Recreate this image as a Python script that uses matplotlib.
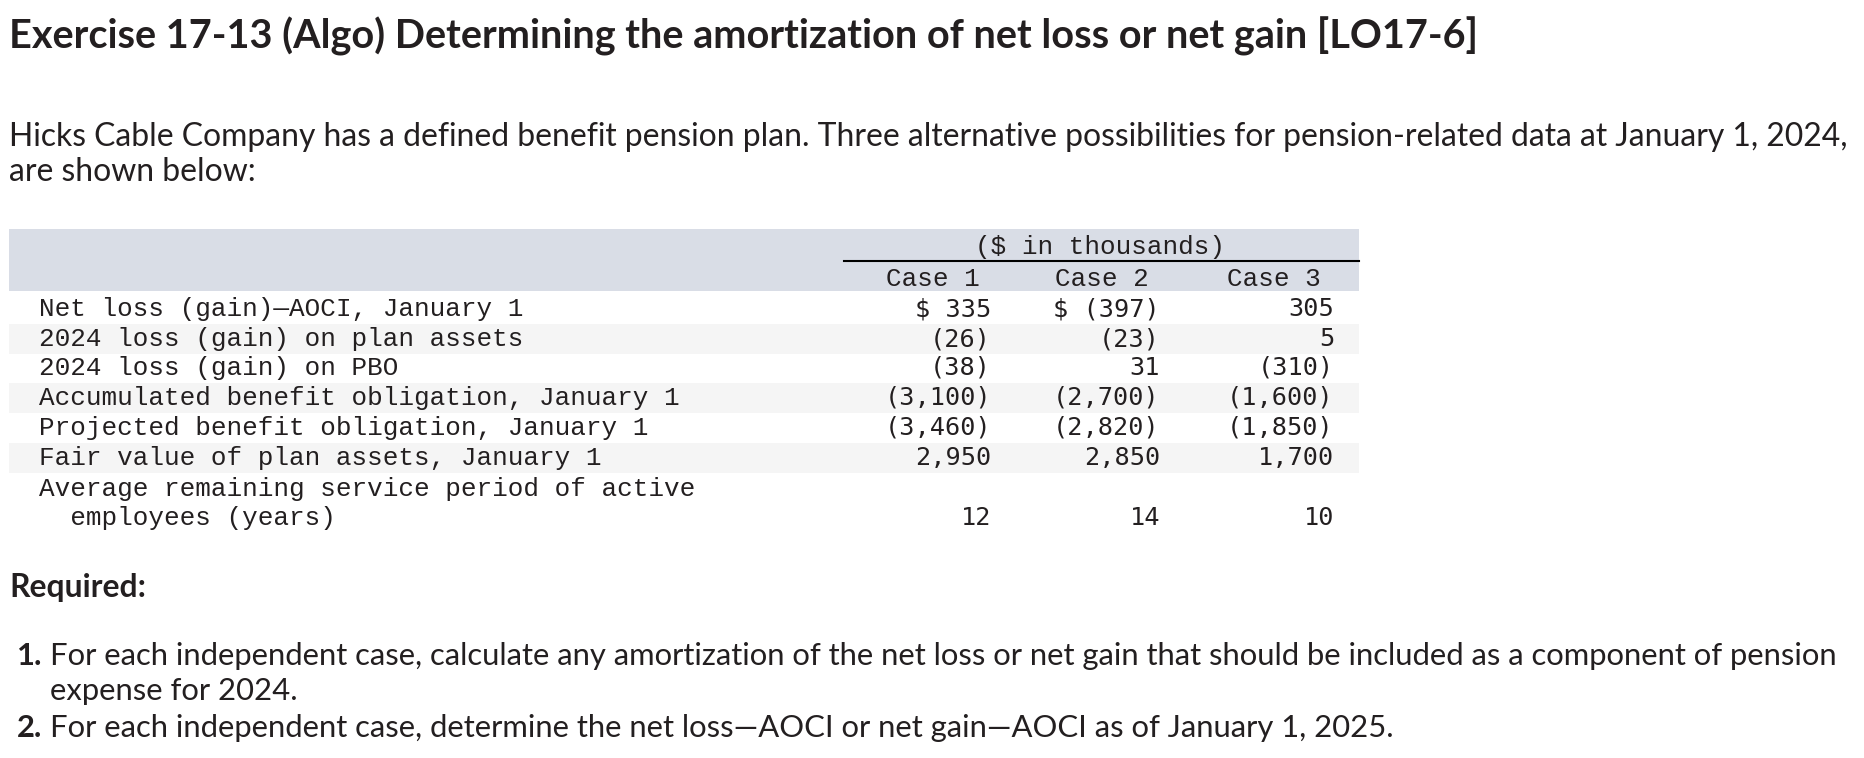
import numpy as np
from matplotlib import pyplot as plt

W, H = 1864, 758

title = "Exercise 17-13 (Algo) Determining the amortization of net loss or net gain [LO17-6]"
intro = ["Hicks Cable Company has a defined benefit pension plan. Three alternative possibilities for pension-related data at January 1, 2024,",
         "are shown below:"]

unit_label = "($ in thousands)"
cases = ["Case 1", "Case 2", "Case 3"]
row_labels = ["Net loss (gain)\u2014AOCI, January 1",
              "2024 loss (gain) on plan assets",
              "2024 loss (gain) on PBO",
              "Accumulated benefit obligation, January 1",
              "Projected benefit obligation, January 1",
              "Fair value of plan assets, January 1",
              "Average remaining service period of active",
              "  employees (years)"]
case1 = ["$ 335", "(26)", "(38)", "(3,100)", "(3,460)", "2,950", "", "12"]
case2 = ["$ (397)", "(23)", "31", "(2,700)", "(2,820)", "2,850", "", "14"]
case3 = ["305", "5", "(310)", "(1,600)", "(1,850)", "1,700", "", "10"]

required = "Required:"
req_items = [("1.", ["For each independent case, calculate any amortization of the net loss or net gain that should be included as a component of pension",
                     "expense for 2024."]),
             ("2.", ["For each independent case, determine the net loss\u2014AOCI or net gain\u2014AOCI as of January 1, 2025."])]

sans = ["Lato", "DejaVu Sans"]
mono = ["Liberation Mono", "DejaVu Sans Mono"]
num_font = ["DejaVu Sans Mono"]
ink = "#231f20"

fig = plt.figure(figsize=(W / 100, H / 100), dpi=100)
ax = fig.add_axes([0, 0, 1, 1])
ax.set_xlim(0, W)
ax.set_ylim(H, 0)
ax.axis("off")
renderer = fig.canvas.get_renderer()


def fit(txt, width, **kw):
    # pick a font size so the text spans the given pixel width
    t = ax.text(0, 0, txt, fontsize=10, **kw)
    w = t.get_window_extent(renderer).width
    t.remove()
    return 10 * width / w


title_fs = fit(title, 1470, family=sans, weight="bold")
ax.text(9, 36, title, fontsize=title_fs, family=sans, weight="bold", color=ink, va="center")

body_fs = fit(intro[0], 1842, family=sans)
ax.text(9, 137, intro[0], fontsize=body_fs, family=sans, color=ink, va="center")
ax.text(9, 172, intro[1], fontsize=body_fs, family=sans, color=ink, va="center")

# table
tab_left, tab_right = 9, 1359
ax.fill_between([tab_left, tab_right], 229, 291, color="#d9dde6", lw=0)
row_y = [309, 339, 368, 398, 428, 458, 489, 518]
for i in (1, 3, 5):
    ax.fill_between([tab_left, tab_right], row_y[i] - 15, row_y[i] + 15, color="#f5f5f5", lw=0)

mono_fs = fit(row_labels[3], 644, family=mono)
ax.text(1100, 247, unit_label, fontsize=mono_fs, family=mono, color=ink, ha="center", va="center")
ax.plot([844, tab_right], [261, 261], color="black", lw=1.5)
for x, c in zip([933, 1102, 1274], cases):
    ax.text(x, 279, c, fontsize=mono_fs, family=mono, color=ink, ha="center", va="center")

for y, lab in zip(row_y, row_labels):
    ax.text(39, y, lab, fontsize=mono_fs, family=mono, color=ink, va="center")

num_fs = mono_fs * 0.97
for xr, col in zip([991, 1160, 1334], [case1, case2, case3]):
    for y, v in zip(row_y, col):
        if v:
            ax.text(xr, y, v, fontsize=num_fs, family=num_font, color=ink, ha="right", va="center")

# required section
req_fs = min(body_fs, fit(req_items[0][1][0], 1796, family=sans))
ax.text(9, 588, required, fontsize=body_fs, family=sans, weight="bold", color=ink, va="center")
line_y = [656, 691, 728]
k = 0
for num, lines in req_items:
    ax.text(42, line_y[k], num, fontsize=req_fs, family=sans, weight="bold", color=ink, ha="right", va="center")
    for ln in lines:
        ax.text(50, line_y[k], ln, fontsize=req_fs, family=sans, color=ink, va="center")
        k += 1

fig.savefig("out.png", dpi=100, facecolor="white")
